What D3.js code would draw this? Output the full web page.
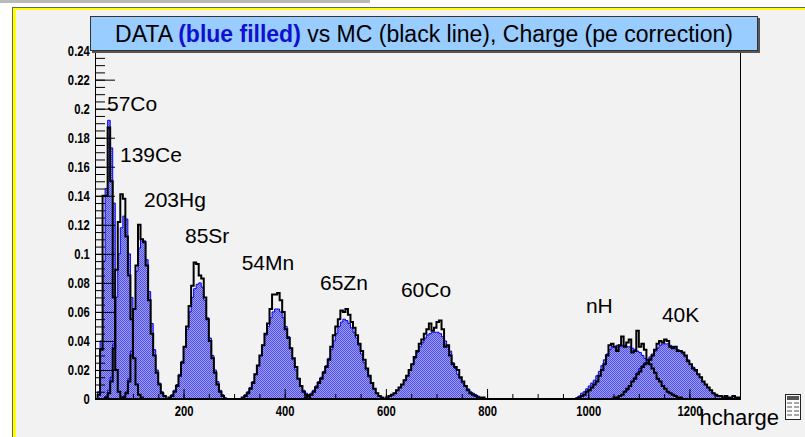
<!DOCTYPE html>
<html>
<head>
<meta charset="utf-8">
<script src="https://cdn.jsdelivr.net/npm/d3@7"></script>
<style>
  body { margin: 0; background: #fff; }
  svg { display: block; }
  text { font-family: "Liberation Sans", Arial, sans-serif; }
</style>
</head>
<body>
<svg id="chart" width="805" height="437"></svg>
<script>
// histogram binning (charge units), all sources share it
var binWidth = 5;
// bin contents are given in units of 1e-3 (normalised entries)
var valueUnit = 0.001;

var sourceNames = ["57Co", "139Ce", "203Hg", "85Sr", "54Mn", "65Zn", "60Co", "nH", "40K"];

// DATA (blue filled): first bin edge + bin contents
var dataStarts = [30, 45, 80, 170, 315, 440, 600, 975, 1055];
var co57Data = [5, 40, 95, 145, 192, 173, 135, 60, 20, 5];
var ce139Data = [2, 6, 15, 38, 70, 100, 118, 126, 124, 100, 70, 40, 18, 6, 2];
var hg203Data = [2, 5, 14, 33, 62, 88, 104, 110, 109, 96, 74, 52, 34, 20, 11, 5, 2];
var sr85Data = [1, 3, 6, 10, 17, 26, 36, 48, 60, 70, 76, 79, 80, 77, 68, 56, 42, 30, 20, 12, 6, 3, 1];
var mn54Data = [1, 3, 5, 8, 12, 17, 23, 30, 37, 44, 50, 56, 60, 62, 62, 60, 56, 50, 43, 35, 27, 20, 14, 9, 6, 4, 2];
var zn65Data = [2, 3, 4, 6, 9, 12, 15, 19, 23, 28, 34, 40, 45, 50, 53, 55, 54, 52, 49, 46, 42, 37, 31, 25, 20, 15, 11, 7, 4, 2, 1];
var co60Data = [1, 2, 3, 4, 6, 8, 10, 13, 16, 20, 24, 28, 32, 36, 39, 42, 44, 45, 46, 46, 46, 45, 43, 40, 37, 33, 25, 21, 17, 14, 11, 9, 7, 5, 4, 3, 2, 1, 1];
var nHData = [1, 2, 4, 5, 7, 9, 11, 13, 16, 19, 23, 27, 31, 34, 36, 36, 37, 36, 37, 37, 36, 36, 35, 34, 33, 32, 30, 28, 26, 23, 21, 17, 14, 11, 8, 6, 4, 3, 2, 1];
var k40Data = [1, 2, 3, 5, 6, 9, 12, 15, 18, 21, 23, 25, 27, 29, 31, 33, 35, 37, 38, 38, 38, 37, 36, 35, 34, 33, 31, 29, 27, 24, 22, 19, 17, 15, 12, 10, 8, 6, 4, 3, 2, 2, 1, 1];

// MC (black line): first bin edge + bin contents
var mcStarts = [30, 45, 80, 170, 315, 440, 600, 980, 1050];
var co57Mc = [3, 34, 140, 140, 187, 150, 70, 20, 5, 1];
var ce139Mc = [1, 4, 12, 35, 89, 122, 141, 138, 112, 85, 55, 28, 10, 3, 1];
var hg203Mc = [1, 4, 12, 30, 62, 92, 120, 110, 108, 92, 68, 45, 30, 18, 10, 4, 2];
var sr85Mc = [1, 2, 5, 9, 16, 25, 36, 50, 64, 78, 94, 93, 85, 83, 70, 55, 40, 28, 18, 10, 5, 2];
var mn54Mc = [1, 2, 4, 7, 11, 17, 23, 30, 37, 45, 52, 62, 72, 72, 73, 68, 60, 48, 42, 35, 28, 22, 14, 9, 5, 3, 2];
var zn65Mc = [1, 2, 3, 5, 8, 11, 14, 18, 22, 27, 36, 44, 50, 55, 61, 60, 62, 58, 53, 49, 44, 38, 33, 27, 21, 16, 11, 7, 4, 2, 1];
var co60Mc = [1, 2, 3, 4, 6, 8, 10, 13, 16, 20, 24, 29, 33, 38, 41, 45, 48, 52, 47, 49, 53, 54, 48, 36, 37, 30, 24, 22, 20, 15, 12, 9, 6, 4, 3, 2, 1, 1, 1];
var nHMc = [1, 2, 3, 5, 6, 8, 10, 12, 16, 20, 24, 30, 37, 38, 36, 33, 37, 43, 36, 39, 41, 32, 33, 47, 36, 38, 34, 27, 24, 21, 18, 14, 12, 9, 7, 5, 4, 3, 2, 1, 1];
var k40Mc = [1, 1, 2, 3, 5, 7, 9, 12, 14, 17, 19, 22, 24, 25, 27, 30, 34, 38, 40, 39, 41, 40, 36, 35, 36, 33, 33, 32, 30, 26, 24, 21, 20, 17, 15, 12, 10, 8, 6, 4, 3, 2, 2, 1, 2, 1, 1, 2, 1, 1];

var xTickValues = [200, 400, 600, 800, 1000, 1200];
var yTickValues = [0, 0.02, 0.04, 0.06, 0.08, 0.1, 0.12, 0.14, 0.16, 0.18, 0.2, 0.22, 0.24];

var dataArrays = [co57Data, ce139Data, hg203Data, sr85Data, mn54Data, zn65Data, co60Data, nHData, k40Data];
var mcArrays = [co57Mc, ce139Mc, hg203Mc, sr85Mc, mn54Mc, zn65Mc, co60Mc, nHMc, k40Mc];

// where the source names sit, in axis units (charge, value)
var labelAt = [[48.7, 0.1986], [74.4, 0.1634], [121.8, 0.1324], [202.9, 0.1076], [314.9, 0.089],
               [469.7, 0.0752], [629.7, 0.0703], [995.4, 0.0593], [1145.6, 0.0531]];

var svg = d3.select("#chart");

// 画布背景
svg.append("rect").attr("width", 805).attr("height", 437).attr("fill", "#fff");
svg.append("rect").attr("x", 0).attr("y", 0).attr("width", 370).attr("height", 3).attr("fill", "#b9b9b9");
svg.append("rect").attr("x", 16).attr("y", 10).attr("width", 789).attr("height", 427).attr("fill", "#f2f2f2");
svg.append("rect").attr("x", 12).attr("y", 7).attr("width", 793).attr("height", 1).attr("fill", "#666");
svg.append("rect").attr("x", 12).attr("y", 8).attr("width", 793).attr("height", 2).attr("fill", "#ffff00");
svg.append("rect").attr("x", 12).attr("y", 7).attr("width", 1).attr("height", 430).attr("fill", "#666");
svg.append("rect").attr("x", 13).attr("y", 8).attr("width", 3).attr("height", 429).attr("fill", "#ffff00");

var x = d3.scaleLinear().domain([25, 1300]).range([95, 740]);
var y = d3.scaleLinear().domain([0, 0.2425]).range([399, 47]);

// dithered blue fill like the ROOT hatch
var pat = svg.append("defs").append("pattern")
  .attr("id", "dither")
  .attr("width", 2).attr("height", 2)
  .attr("patternUnits", "userSpaceOnUse");
pat.append("rect").attr("width", 2).attr("height", 2).attr("fill", "#9c9cf3");
pat.append("rect").attr("width", 1).attr("height", 1).attr("fill", "#5252e9");
pat.append("rect").attr("x", 1).attr("y", 1).attr("width", 1).attr("height", 1).attr("fill", "#5252e9");

// bin contents -> outline points going down to zero at both ends
function histPoints(start, vals) {
  var pts = [{ e: start, v: 0 }];
  vals.forEach(function(v, i) {
    pts.push({ e: start + i * binWidth, v: v * valueUnit });
  });
  var last = vals[vals.length - 1] * valueUnit;
  pts.push({ e: start + vals.length * binWidth, v: last });
  pts.push({ e: start + vals.length * binWidth, v: 0 });
  return pts;
}

var stepLine = d3.line()
  .x(function(d) { return x(d.e); })
  .y(function(d) { return y(d.v); })
  .curve(d3.curveStepAfter);

var hists = sourceNames.map(function(name, i) {
  return {
    name: name,
    data: histPoints(dataStarts[i], dataArrays[i]),
    mc: histPoints(mcStarts[i], mcArrays[i])
  };
});

// DATA
svg.append("g")
  .selectAll("path")
  .data(hists)
  .enter()
  .append("path")
  .attr("d", function(d) { return stepLine(d.data) + "Z"; })
  .attr("fill", "url(#dither)")
  .attr("stroke", "#0000ff")
  .attr("stroke-width", 1);

// MC
svg.append("g")
  .selectAll("path")
  .data(hists)
  .enter()
  .append("path")
  .attr("d", function(d) { return stepLine(d.mc); })
  .attr("fill", "none")
  .attr("stroke", "#000")
  .attr("stroke-width", 2);

// 坐标轴 (ticks drawn inside the frame, on top of the histograms)
var tickFont = function(sel) {
  sel.selectAll("text")
    .attr("fill", "#000")
    .style("font-size", "15px")
    .style("font-weight", "bold")
    .attr("transform", "scale(0.75,1)");
  sel.selectAll("line").attr("stroke", "#000");
  sel.select(".domain").remove();
};

svg.append("g")
  .attr("transform", "translate(0,399)")
  .call(d3.axisBottom(x).tickValues(d3.range(50, 1300, 50)).tickSize(-5).tickFormat(""))
  .call(tickFont);

svg.append("g")
  .attr("transform", "translate(0,399)")
  .call(d3.axisBottom(x).tickValues(xTickValues).tickSize(-10).tickPadding(6).tickFormat(d3.format("d")))
  .call(tickFont);

svg.append("g")
  .attr("transform", "translate(95,0)")
  .call(d3.axisLeft(y).tickValues(d3.range(0, 0.2425, 0.005)).tickSize(-10).tickFormat(""))
  .call(tickFont);

svg.append("g")
  .attr("transform", "translate(95,0)")
  .call(d3.axisLeft(y).tickValues(yTickValues).tickSize(-20).tickPadding(7)
    .tickFormat(function(d) { return d === 0 ? "0" : String(+d.toFixed(2)); }))
  .call(tickFont);

// frame
svg.append("rect")
  .attr("x", x(25) + 0.5)
  .attr("y", y(0.2425) + 0.5)
  .attr("width", x(1300) - x(25))
  .attr("height", y(0) - y(0.2425))
  .attr("fill", "none")
  .attr("stroke", "#000")
  .attr("stroke-width", 1);
svg.append("line")
  .attr("x1", x(25)).attr("x2", x(1300))
  .attr("y1", y(0)).attr("y2", y(0))
  .attr("stroke", "#000").attr("stroke-width", 2);

// source labels
svg.append("g")
  .selectAll("text")
  .data(hists)
  .enter()
  .append("text")
  .attr("x", function(d, i) { return x(labelAt[i][0]); })
  .attr("y", function(d, i) { return y(labelAt[i][1]); })
  .attr("fill", "#000")
  .style("font-size", "21px")
  .text(function(d) { return d.name; });

// axis title
svg.append("text")
  .attr("x", 779)
  .attr("y", 425)
  .attr("text-anchor", "end")
  .style("font-size", "22px")
  .text("hcharge");

// small stats icon bottom right
var icon = svg.append("g").attr("transform", "translate(785,394)");
icon.append("rect").attr("x", 0.5).attr("y", 0.5).attr("width", 15).attr("height", 25)
  .attr("fill", "#fafafa").attr("stroke", "#222");
icon.append("rect").attr("x", 2).attr("y", 2).attr("width", 12).attr("height", 4).attr("fill", "#555");
[9, 13, 17, 21].forEach(function(r) {
  icon.append("line").attr("x1", 2).attr("x2", 7).attr("y1", r).attr("y2", r).attr("stroke", "#555");
  icon.append("line").attr("x1", 9).attr("x2", 14).attr("y1", r).attr("y2", r).attr("stroke", "#555");
});

// 标题框
svg.append("rect").attr("x", 92).attr("y", 18).attr("width", 668).attr("height", 35).attr("fill", "#555");
svg.append("rect").attr("x", 90.5).attr("y", 16.5).attr("width", 667).attr("height", 34)
  .attr("fill", "#99ccff").attr("stroke", "#333").attr("stroke-width", 1);
var title = svg.append("text")
  .attr("x", 424)
  .attr("y", 42)
  .attr("text-anchor", "middle")
  .style("font-size", "23px")
  .attr("fill", "#000");
title.append("tspan").text("DATA ");
title.append("tspan").attr("fill", "#1010d0").style("font-weight", "bold").text("(blue filled)");
title.append("tspan").text(" vs MC (black line), Charge (pe correction)");
</script>
</body>
</html>
